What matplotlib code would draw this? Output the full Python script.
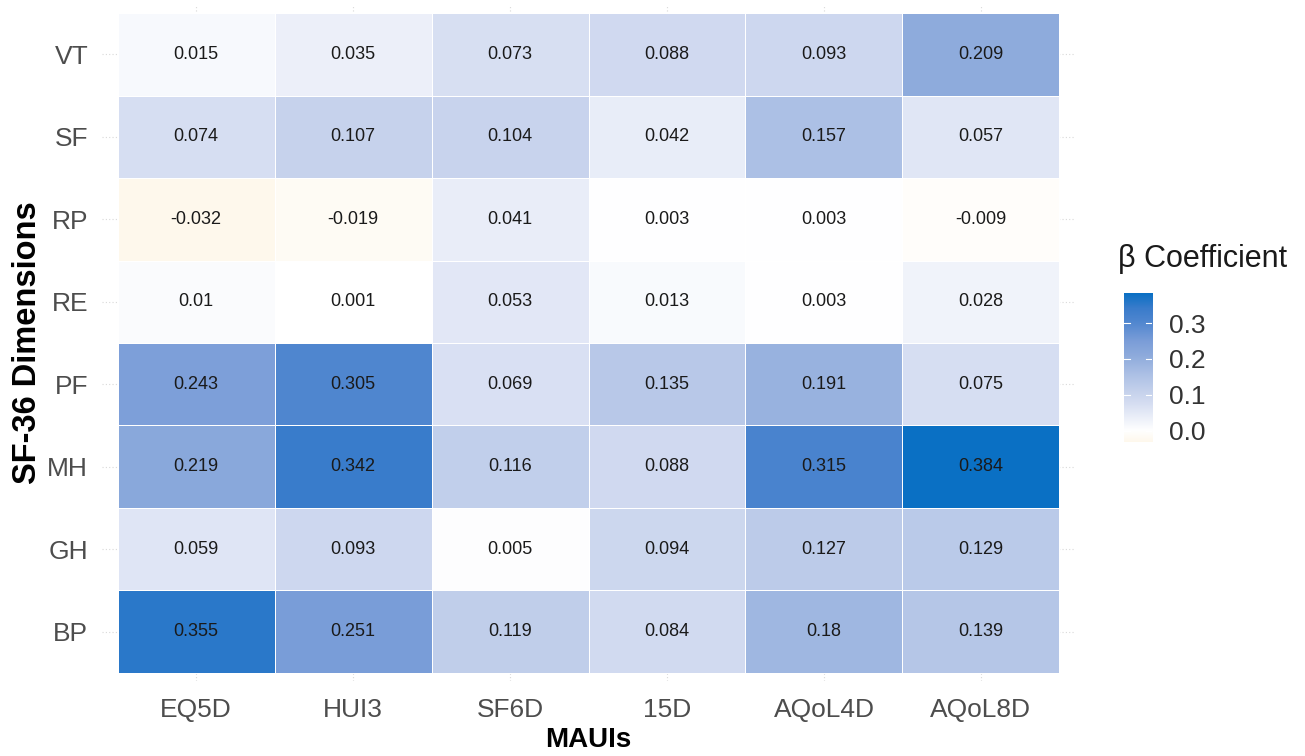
import numpy as np
import matplotlib
matplotlib.use("Agg")
import matplotlib.pyplot as plt
from matplotlib.colors import LinearSegmentedColormap, Normalize

plt.rcParams['font.family'] = ['Liberation Sans', 'DejaVu Sans']

# MAUI instruments (columns) and SF-36 dimensions (rows, bottom to top)
mauis = ["EQ5D", "HUI3", "SF6D", "15D", "AQoL4D", "AQoL8D"]
dimensions = ["BP", "GH", "MH", "PF", "RE", "RP", "SF", "VT"]

bp = [0.355, 0.251, 0.119, 0.084, 0.18, 0.139]
gh = [0.059, 0.093, 0.005, 0.094, 0.127, 0.129]
mh = [0.219, 0.342, 0.116, 0.088, 0.315, 0.384]
pf = [0.243, 0.305, 0.069, 0.135, 0.191, 0.075]
re = [0.01, 0.001, 0.053, 0.013, 0.003, 0.028]
rp = [-0.032, -0.019, 0.041, 0.003, 0.003, -0.009]
sf = [0.074, 0.107, 0.104, 0.042, 0.157, 0.057]
vt = [0.015, 0.035, 0.073, 0.088, 0.093, 0.209]

beta = np.array([bp, gh, mh, pf, re, rp, sf, vt])
vmin, vmax = beta.min(), beta.max()

# diverging fill: cream below zero, white at zero, blue above
stops = [(-0.032, "#FEF8EC"), (0.0, "#FFFFFF"), (0.074, "#D6DEF2"),
         (0.107, "#C6D2EC"), (0.157, "#ACC0E5"), (0.209, "#8EABDC"),
         (0.251, "#7A9DD8"), (0.305, "#4F86CF"), (0.342, "#3A7CCB"),
         (0.384, "#0A70C4")]
cmap = LinearSegmentedColormap.from_list(
    "beta", [((v - vmin) / (vmax - vmin), c) for v, c in stops])
norm = Normalize(vmin=vmin, vmax=vmax)

fig = plt.figure(figsize=(13.05, 7.56), dpi=100)
ax = fig.add_axes([0.0782, 0.0992, 0.7456, 0.8942])

nx, ny = len(mauis), len(dimensions)
xe = np.arange(nx + 1) - 0.5
ye = np.arange(ny + 1) - 0.5
ax.pcolormesh(xe, ye, beta, cmap=cmap, norm=norm,
              edgecolors="white", linewidth=0.5, zorder=2)

for i in range(ny):
    for j in range(nx):
        ax.text(j, i, f"{beta[i, j]:g}", ha="center", va="center",
                fontsize=13, color="#1a1a1a", zorder=3)

ax.set_xlim(-0.6, nx - 0.4)
ax.set_ylim(-0.6, ny - 0.4)
ax.set_xticks(range(nx))
ax.set_xticklabels(mauis)
ax.set_yticks(range(ny))
ax.set_yticklabels(dimensions)
ax.tick_params(length=0, labelsize=19, labelcolor="#4D4D4D")
ax.tick_params(axis="x", pad=12)
ax.tick_params(axis="y", pad=10)
ax.grid(True, color="#D9D9D9", linestyle=(0, (1, 2)), linewidth=0.8, zorder=0)
ax.set_axisbelow(True)
for s in ax.spines.values():
    s.set_visible(False)

ax.set_xlabel("MAUIs", fontsize=20, fontweight="bold", labelpad=4)
ax.set_ylabel("SF-36 Dimensions", fontsize=23.5, fontweight="bold", labelpad=3)

# colour bar legend
cax = fig.add_axes([0.8613, 0.4153, 0.0215, 0.197])
grad = np.linspace(vmin, vmax, 256).reshape(-1, 1)
cax.imshow(grad, cmap=cmap, norm=norm, aspect="auto", origin="lower",
           extent=[0, 1, vmin, vmax])
cax.set_xlim(0, 1)
cax.set_ylim(vmin, vmax)
cax.set_xticks([])
ticks = [0.0, 0.1, 0.2, 0.3]
cax.set_yticks(ticks)
cax.set_yticklabels([f"{t:.1f}" for t in ticks])
cax.yaxis.tick_right()
cax.tick_params(axis="y", length=0, labelsize=19, labelcolor="#333333", pad=12)
for t in ticks:
    cax.plot([0, 0.2], [t, t], color="white", lw=0.8)
    cax.plot([0.8, 1], [t, t], color="white", lw=0.8)
for s in cax.spines.values():
    s.set_visible(False)
fig.text(0.857, 0.657, "β Coefficient", fontsize=22, color="#1a1a1a",
         ha="left", va="center")

fig.savefig("out.png", dpi=100, facecolor="white")
